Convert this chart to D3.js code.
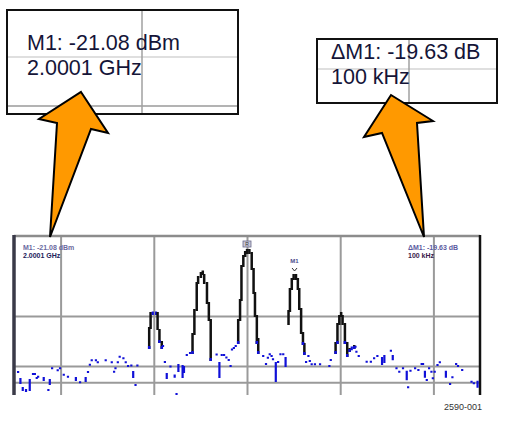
<!DOCTYPE html>
<html>
<head>
<meta charset="utf-8">
<script src="https://cdn.jsdelivr.net/npm/d3@7"></script>
<style>
  body { margin: 0; background: #fff; }
  svg { display: block; font-family: "Liberation Sans", Arial, sans-serif; }
</style>
</head>
<body>
<script>
const w = 506;
const h = 423;

// spectrum trace: frequency offset (kHz), column top / bottom level (dBm)
const traceFreq = [-491,-486,-481,-474,-466,-459,-455,-451,-448,-436,-426,-423,-418,-406,-401,-393,-384,-367,-358,-346,
  -341,-337,-333,-324,-320,-303,-290,-285,-282,-277,-273,-265,-260,-255,-248,-244,-239,-235,
  -210,-207,-202,-195,-192,-188,-183,-180,-176,-172,-164,-155,-151,-147,-138,-135,-129,-122,
  -117,-113,-108,-105,-99,-95,-92,-86,-82,-78,-65,-59,-54,-49,-44,-39,-35,-32,-28,-24,
  -19,-15,-12,-8,-4,0,5,10,14,17,21,24,35,41,45,49,53,56,62,67,72,78,83,
  89,92,96,100,105,109,112,116,120,123,127,132,135,139,146,157,177,180,
  190,194,198,202,205,210,215,220,225,230,233,235,240,257,266,273,280,290,295,309,313,
  321,327,335,343,346,351,361,368,375,378,382,386,391,396,399,403,409,414,427,436,441,449,453,462,482,487,495];
const traceHigh = [-118.8,-124.4,-131.6,-133.2,-125.2,-120.4,-120.4,-123.6,-122.6,-123.6,-133.2,-125.2,-115.8,-117.4,-115.8,-121.0,-122.6,-123.6,-127.0,-123.6,
  -118.8,-113.0,-109.4,-109.4,-111.0,-109.4,-111.0,-118.6,-115.8,-111.0,-106.6,-107.8,-111.0,-114.0,-113.6,-118.8,-129.2,-113.6,
  -83.6,-71.6,-71.2,-71.2,-71.6,-85.2,-94.8,-98.0,-110.8,-120.4,-114.4,-121.6,-136.4,-113.2,-114.0,-114.8,-105.2,-103.6,
  -88.4,-69.2,-47.6,-42.8,-39.6,-38.4,-41.2,-47.6,-63.6,-77.2,-104.8,-111.6,-105.2,-105.2,-107.2,-109.2,-114.0,-100.8,-99.6,-98.0,
  -77.2,-61.2,-34.0,-26.0,-22.8,-21.2,-21.2,-23.6,-36.4,-55.6,-74.0,-92.4,-106.0,-112.4,-107.4,-104.6,-106.0,-108.6,-111.6,-110.8,-104.6,-104.6,-107.6,
  -70.0,-52.4,-44.4,-41.2,-41.2,-44.4,-52.4,-68.4,-87.6,-96.4,-110.8,-106.0,-110.0,-112.6,-112.6,-112.6,-114.0,-109.2,
  -95.6,-80.4,-74.0,-71.6,-74.0,-80.4,-95.6,-100.4,-99.2,-98.0,-98.6,-102.6,-106.0,-110.6,-110.6,-107.8,-106.0,-107.6,-106.0,-101.8,-106.0,
  -115.8,-118.6,-115.8,-118.6,-131.0,-117.8,-115.8,-117.2,-112.4,-112.4,-118.6,-125.2,-115.8,-118.6,-123.8,-118.6,-113.2,-111.0,-118.6,-128.4,-123.0,-112.4,-114.0,-117.2,-126.6,-127.8,-126.6];
const traceLow = [-118.8,-127.6,-133.2,-134.0,-133.2,-120.4,-120.4,-123.6,-122.6,-125.2,-133.2,-128.4,-115.8,-117.4,-115.8,-121.0,-122.6,-125.2,-127.0,-126.0,
  -118.8,-113.0,-109.4,-109.4,-111.0,-109.4,-111.0,-118.6,-115.8,-111.0,-106.6,-107.8,-111.0,-114.0,-113.6,-122.8,-129.2,-113.6,
  -99.6,-83.6,-72.4,-72.4,-84.4,-94.8,-99.6,-98.0,-110.8,-123.6,-114.4,-122.6,-136.4,-118.0,-122.8,-118.8,-105.2,-103.6,
  -103.6,-88.4,-69.2,-47.6,-42.8,-40.4,-47.6,-63.6,-77.2,-109.2,-104.8,-122.8,-105.2,-105.2,-107.2,-109.2,-114.0,-100.8,-99.6,-98.0,
  -95.6,-77.2,-61.2,-34.0,-26.0,-23.6,-23.6,-36.4,-55.6,-74.0,-95.6,-103.6,-106.0,-112.4,-107.4,-104.6,-106.0,-108.6,-126.0,-110.8,-104.6,-104.6,-114.0,
  -80.4,-70.0,-52.4,-44.4,-44.4,-52.4,-68.4,-87.6,-96.4,-104.4,-110.8,-106.0,-110.0,-112.6,-112.6,-112.6,-114.0,-109.2,
  -103.6,-95.6,-80.4,-74.0,-80.4,-95.6,-106.0,-102.0,-100.6,-99.6,-98.6,-102.6,-106.0,-110.6,-110.6,-107.8,-106.0,-112.4,-110.8,-101.8,-108.6,
  -115.8,-118.6,-115.8,-124.6,-131.0,-117.8,-115.8,-117.2,-112.4,-112.4,-122.6,-125.2,-115.8,-118.6,-123.8,-118.6,-113.2,-111.0,-122.6,-128.4,-123.0,-112.4,-114.0,-117.2,-126.6,-127.8,-130.6];

const gridFreqs = [-400, -200, 0, 200, 400];
const gridLevels = [-74, -114, -127];

// marker readouts
const absLines = ["M1: -21.08 dBm", "2.0001 GHz"];
const deltaLines = ["\u0394M1: -19.63 dB", "100 kHz"];
const centerMarkerFreq = 0, centerMarkerLevel = -21.2;
const deltaMarkerFreq = 102, deltaMarkerLevel = -41.2;

const plotLeft = 14, plotRight = 480, plotTop = 236, plotBottom = 395;

const svg = d3.select("body").append("svg").attr("width", w).attr("height", h);

const x = d3.scaleLinear().domain([-500, 500]).range([plotLeft, plotRight]);
const y = d3.scaleLinear().domain([-10, -138]).range([plotTop, 396]);

// grid lines through the axes
svg.append("g")
  .attr("transform", "translate(0," + plotBottom + ")")
  .call(d3.axisBottom(x).tickValues(gridFreqs).tickSize(-(plotBottom - plotTop)).tickFormat(""))
  .call(g => g.select(".domain").remove())
  .call(g => g.selectAll("line").attr("stroke", "#9a9a9a").attr("stroke-width", 2));

svg.append("g")
  .attr("transform", "translate(" + plotLeft + ",0)")
  .call(d3.axisLeft(y).tickValues(gridLevels).tickSize(-(plotRight - plotLeft)).tickFormat(""))
  .call(g => g.select(".domain").remove())
  .call(g => g.selectAll("line").attr("stroke", "#9a9a9a").attr("stroke-width", 2));

// frame
svg.append("line").attr("x1", plotLeft).attr("x2", plotRight).attr("y1", plotTop).attr("y2", plotTop)
  .attr("stroke", "#8c8c8c").attr("stroke-width", 2.5);
svg.append("line").attr("x1", plotLeft).attr("x2", plotLeft).attr("y1", plotTop - 1).attr("y2", plotBottom)
  .attr("stroke", "#3a3a48").attr("stroke-width", 3.5);
svg.append("line").attr("x1", plotRight).attr("x2", plotRight).attr("y1", plotTop - 1).attr("y2", plotBottom)
  .attr("stroke", "#111").attr("stroke-width", 2.5);

// trace columns
const cols = traceFreq.map((f, i) => ({ f: f, hi: traceHigh[i], lo: traceLow[i] }));
const isSignal = d => y(d.hi) < 350 && (y(d.lo) - y(d.hi)) >= 2;

svg.append("g").selectAll("rect")
  .data(cols)
  .enter()
  .append("rect")
  .attr("x", d => x(d.f) - 1.2)
  .attr("y", d => y(d.hi) - 1)
  .attr("width", d => isSignal(d) ? 2.5 : 2.2)
  .attr("height", d => y(d.lo) - y(d.hi) + 2)
  .attr("fill", d => isSignal(d) ? "#111" : "#1010d8");

// blue sample dot at the foot of the signal strokes
svg.append("g").selectAll("rect")
  .data(cols.filter(d => isSignal(d) && y(d.lo) > 338))
  .enter()
  .append("rect")
  .attr("x", d => x(d.f) - 1.2)
  .attr("y", d => y(d.lo) - 2)
  .attr("width", 2.5)
  .attr("height", 3)
  .attr("fill", "#1010d8");

// tiny on-screen readouts
const tiny = svg.append("g").style("font-size", "7px").style("font-weight", "bold");
tiny.selectAll(".ra").data(absLines).enter().append("text")
  .attr("x", 23).attr("y", (d, i) => 250 + i * 8)
  .attr("fill", (d, i) => i ? "#20205a" : "#6a6aa0")
  .text(d => d);
tiny.selectAll(".rd").data(deltaLines).enter().append("text")
  .attr("x", 408).attr("y", (d, i) => 250 + i * 8)
  .attr("fill", (d, i) => i ? "#3a1a4a" : "#5a5aa0")
  .text(d => d);

// marker flags
svg.append("rect").attr("x", x(centerMarkerFreq) - 4).attr("y", y(centerMarkerLevel) - 9)
  .attr("width", 8).attr("height", 6).attr("fill", "#c8c8d8").attr("stroke", "#6a6a8a").attr("stroke-width", 0.8);
svg.append("text").attr("x", x(centerMarkerFreq)).attr("y", y(centerMarkerLevel) - 4)
  .attr("text-anchor", "middle").style("font-size", "5px").attr("fill", "#333").text("R");
svg.append("text").attr("x", x(deltaMarkerFreq)).attr("y", y(deltaMarkerLevel) - 12)
  .attr("text-anchor", "middle").style("font-size", "6px").style("font-weight", "bold").attr("fill", "#4a4a8a").text("M1");
svg.append("path")
  .attr("d", "M" + (x(deltaMarkerFreq) - 2.5) + "," + (y(deltaMarkerLevel) - 7) + " l2.5,3 l2.5,-3")
  .attr("fill", "none").attr("stroke", "#333").attr("stroke-width", 1);

// zoomed readout boxes
function box(x0, y0, x1, y1, vx, hys, lines, tx, ty) {
  const g = svg.append("g");
  hys.forEach(hy => g.append("line").attr("x1", x0).attr("x2", x1).attr("y1", hy.y).attr("y2", hy.y)
    .attr("stroke", hy.c).attr("stroke-width", 1.5));
  g.append("line").attr("x1", vx).attr("x2", vx).attr("y1", y0).attr("y2", y1)
    .attr("stroke", "#a0a0a0").attr("stroke-width", 1.5);
  g.append("rect").attr("x", x0).attr("y", y0).attr("width", x1 - x0).attr("height", y1 - y0)
    .attr("fill", "none").attr("stroke", "#111").attr("stroke-width", 2);
  g.selectAll("text").data(lines).enter().append("text")
    .attr("x", tx).attr("y", (d, i) => ty + i * 25)
    .style("font-size", "21.5px").attr("fill", "#151538")
    .text(d => d);
}
box(7, 10, 238, 114, 142, [{ y: 57, c: "#d4d4d4" }, { y: 106, c: "#9a9a9a" }], absLines, 27, 50);
box(317, 39, 497, 103, 409, [{ y: 69, c: "#d4d4d4" }], deltaLines, 331, 59);

// callout arrows
const arrowA = [[81, 92], [108, 133], [91, 129], [50, 237], [57, 123], [39, 119]];
const arrowB = [[391, 95], [433, 121], [417, 123], [424, 237], [382, 133], [364, 137]];
[arrowA, arrowB].forEach(p => {
  svg.append("path")
    .attr("d", d3.line()(p) + "Z")
    .attr("fill", "#ff9900")
    .attr("stroke", "#000")
    .attr("stroke-width", 2)
    .attr("stroke-linejoin", "miter");
});

svg.append("text")
  .attr("x", 482).attr("y", 410)
  .attr("text-anchor", "end")
  .style("font-size", "9px")
  .attr("fill", "#333")
  .text("2590-001");
</script>
</body>
</html>
